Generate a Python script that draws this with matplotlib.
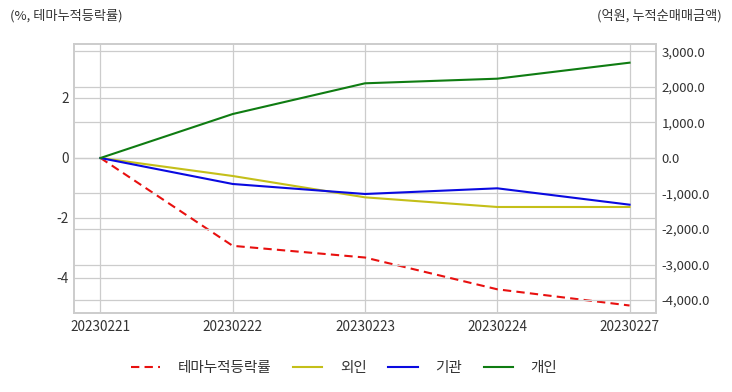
import matplotlib
matplotlib.use("Agg")
import matplotlib.pyplot as plt
from matplotlib.ticker import FuncFormatter, FixedLocator

plt.rcParams['font.family'] = ['Noto Sans CJK KR', 'DejaVu Sans']

dates = ["20230221", "20230222", "20230223", "20230224", "20230227"]
theme_cum = [0.0, -2.93, -3.32, -4.38, -4.92]
foreign = [0.0, -507, -1108, -1380, -1380]
institution = [0.0, -732, -1014, -854, -1315]
individual = [0.0, 1239, 2104, 2234, 2685]

left_ticks = [-4, -2, 0, 2]
right_ticks = [-4000, -3000, -2000, -1000, 0, 1000, 2000, 3000]

fig = plt.figure(figsize=(7.32, 3.92), dpi=100)
ax1 = fig.add_axes([74/732, 1-313/392, (656-74)/732, (313-44)/392])
ax2 = ax1.twinx()

grid_c = '#cccccc'
x = list(range(len(dates)))

l1, = ax1.plot(x, theme_cum, color='#e8100f', linestyle='--', lw=1.5, label='테마누적등락률', dashes=(4, 2.5))
l2, = ax2.plot(x, foreign, color='#c4bf19', lw=1.5, label='외인')
l3, = ax2.plot(x, institution, color='#0a0ae0', lw=1.5, label='기관')
l4, = ax2.plot(x, individual, color='#0f7c12', lw=1.5, label='개인')

ax1.set_xlim(-0.2, 4.2)
ax1.set_ylim(-5.17, 3.8)
ax2.set_ylim(-4366, 3211)
ax1.set_xticks(x)
ax1.set_xticklabels(dates)
ax1.yaxis.set_major_locator(FixedLocator(left_ticks))
ax2.yaxis.set_major_locator(FixedLocator(right_ticks))
ax1.yaxis.set_major_formatter(FuncFormatter(lambda v, p: f"{int(v)}"))
ax2.yaxis.set_major_formatter(FuncFormatter(lambda v, p: f"{v:,.1f}"))

for ax in (ax1, ax2):
    ax.grid(True, color=grid_c, lw=0.9)
    ax.set_axisbelow(True)
    ax.tick_params(length=0, labelsize=9.8, colors='#333333', pad=4)
    for s in ax.spines.values():
        s.set_color(grid_c)
        s.set_linewidth(1.2)
ax2.grid(False, axis='x')
ax2.tick_params(axis='y', labelsize=9.5)
ax1.tick_params(axis='x', pad=5)

fig.text(10/732, 1-16/392, "(%, 테마누적등락률)", fontsize=9.5, color='#333333', va='center', ha='left')
fig.text(722/732, 1-16/392, "(억원, 누적순매매금액)", fontsize=9.5, color='#333333', va='center', ha='right')

fig.legend(handles=[l1, l2, l3, l4], loc='center', bbox_to_anchor=(0.47, 1-368/392), ncol=4,
           frameon=False, fontsize=10.5, handlelength=2.0, columnspacing=1.5, handletextpad=1.2,
           labelcolor='#333333')

fig.savefig("out.png", dpi=100)
